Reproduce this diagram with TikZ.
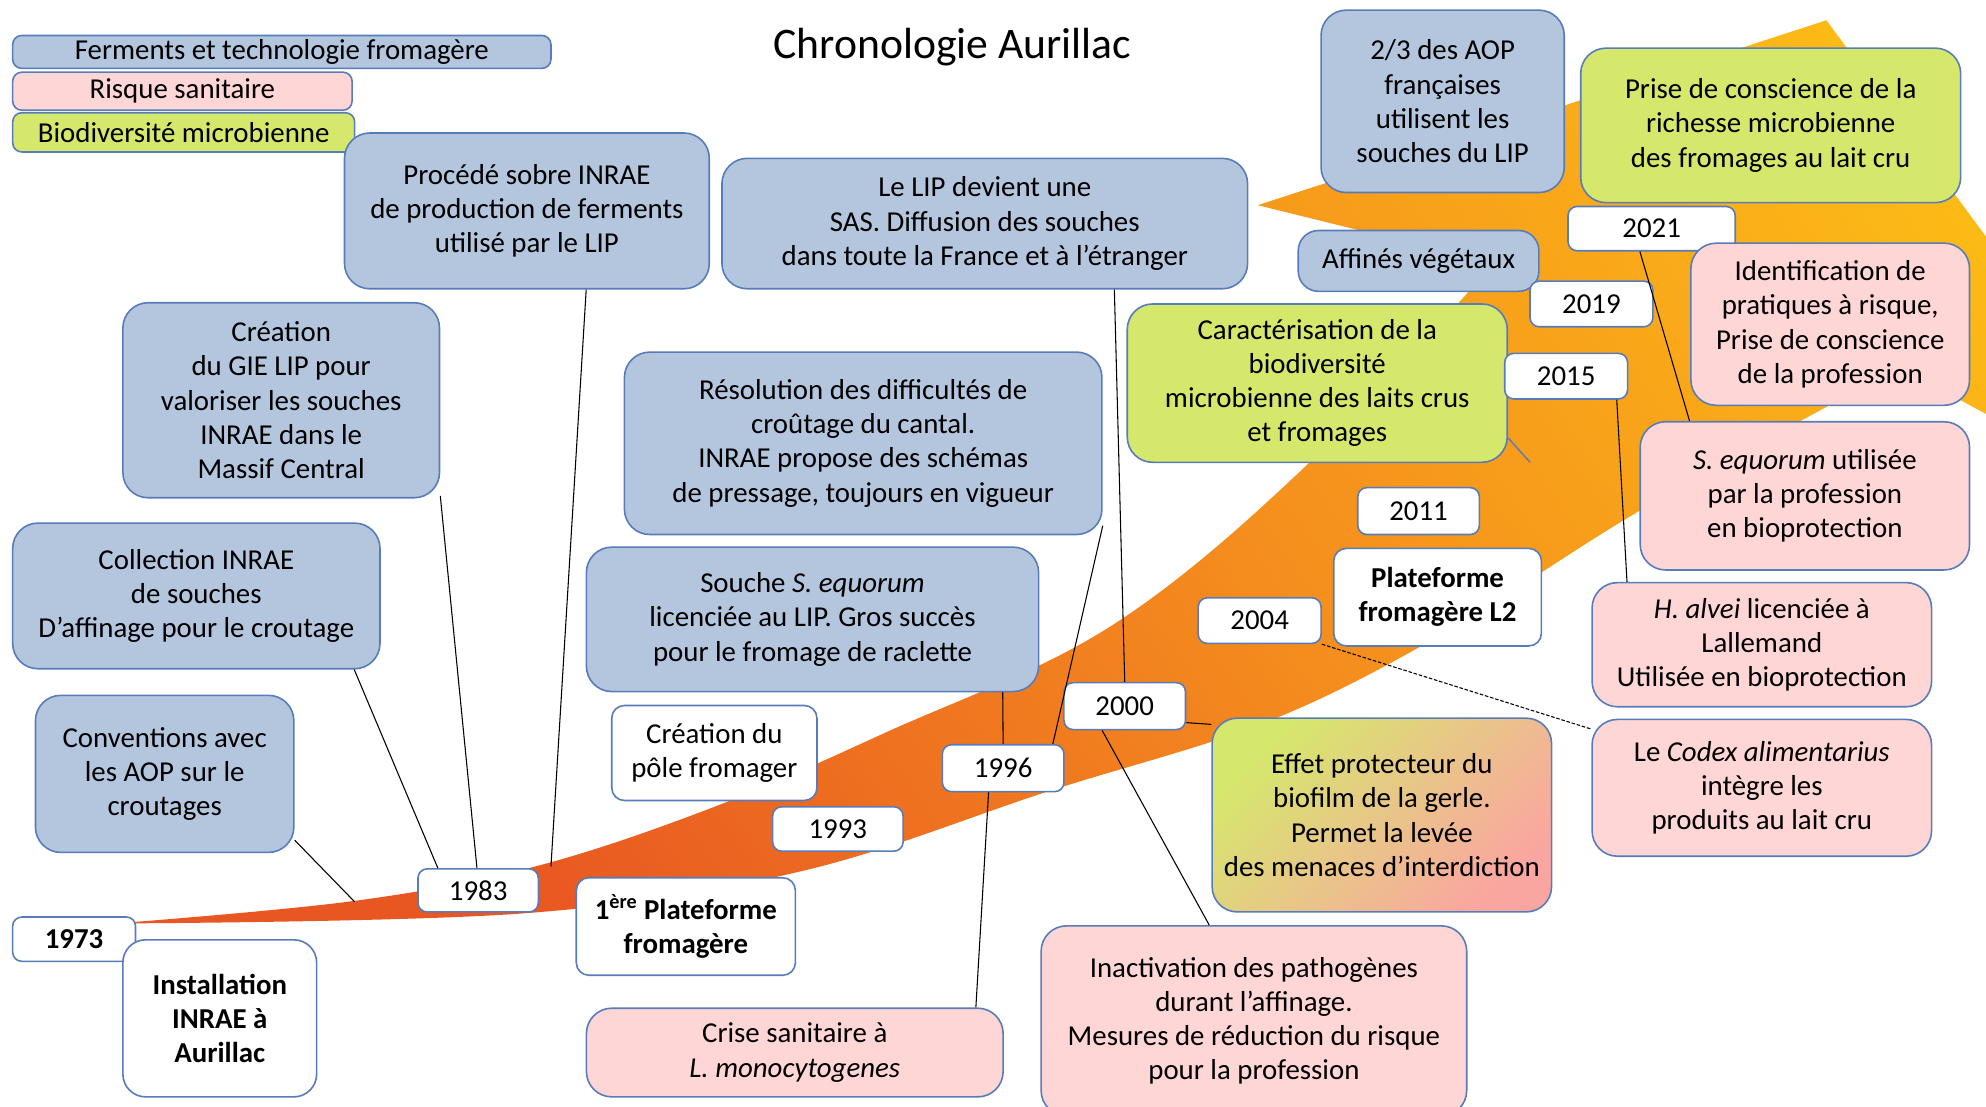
\documentclass[tikz,border=0pt]{standalone}
\usepackage{fontspec}
\setmainfont{Carlito}

\definecolor{bord}{RGB}{88,124,186}
\definecolor{fermbleu}{RGB}{180,198,222}
\definecolor{risquerose}{RGB}{255,214,214}
\definecolor{biovert}{RGB}{213,232,108}
\definecolor{bandebas}{RGB}{232,86,34}
\definecolor{bandemil}{RGB}{244,140,30}
\definecolor{bandehaut}{RGB}{252,186,22}

\begin{document}
\begin{tikzpicture}[x=0.025cm,y=-0.025cm]
    \tikzstyle{every node}=[font=\fontsize{16.2}{19.2}\selectfont, align=center, inner sep=0pt]
    \tikzstyle{etape}=[draw=bord, line width=0.9pt, rounded corners=0.5cm]
    \tikzstyle{ferment}=[etape, fill=fermbleu]
    \tikzstyle{risque}=[etape, fill=risquerose]
    \tikzstyle{biodiv}=[etape, fill=biovert]
    \tikzstyle{annee}=[etape, fill=white, rounded corners=0.18cm]
    \tikzstyle{gras}=[font=\fontsize{16.2}{19.2}\selectfont\bfseries]
    \tikzstyle{lien}=[black, line width=0.6pt]
    \tikzset{taille/.style 2 args={minimum width=#1*0.025cm, minimum height=#2*0.025cm}}

    \useasboundingbox (0,0) rectangle (1568,874);
    \clip (0,0) rectangle (1568,874);

    \shade[bottom color=bandebas, top color=bandehaut, middle color=bandemil, shading angle=-55]
        plot[smooth, tension=0.6] coordinates {(105,728) (282,711) (423,684) (564,637) (700,578) (876,495) (1033,366) (1179,208)}
        -- (993,162) -- (1442,16) -- (1740,420) -- (1500,290)
        -- plot[smooth, tension=0.6] coordinates {(1500,290) (1300,400) (1140,500) (1000,570) (830,624) (632,688) (415,721) (105,729)}
        -- cycle;

    \node (titre) at (752,37) {\fontsize{24.5}{28}\selectfont Chronologie Aurillac};

    \node[ferment, rounded corners=0.18cm, taille={425}{26}] (legferm) at (222.5,41) {Ferments et technologie fromagère};
    \node[risque, rounded corners=0.18cm, taille={268}{30}] (legrisq) at (144,72) {Risque sanitaire};
    \node[biodiv, rounded corners=0.18cm, taille={270}{31}] (legbio) at (145,104.5) {Biodiversité microbienne};

    \node[ferment, taille={288}{123}] (procede) at (416,166.5) {Procédé sobre INRAE\\de production de ferments\\utilisé par le LIP};
    \node[ferment, taille={415}{103}] (lipsas) at (777.5,176.5) {Le LIP devient une\\SAS. Diffusion des souches\\dans toute la France et à l’étranger};
    \node[ferment, taille={192}{144}] (aop) at (1139,80) {2/3 des AOP\\françaises\\utilisent les\\souches du LIP};
    \node[biodiv, taille={300}{122}] (prise) at (1398,99) {Prise de conscience de la\\richesse microbienne\\des fromages au lait cru};
    \node[annee, taille={132}{35}] (a2021) at (1304,180.5) {2021};
    \node[risque, taille={220}{128}] (ident) at (1445,256) {Identification de\\pratiques à risque,\\Prise de conscience\\de la profession};
    \node[ferment, rounded corners=0.4cm, taille={190}{48}] (affines) at (1120,206) {Affinés végétaux};
    \node[annee, taille={97}{36}] (a2019) at (1256.5,240) {2019};
    \node[biodiv, taille={300}{125}] (caract) at (1040,302.5) {Caractérisation de la\\biodiversité\\microbienne des laits crus\\et fromages};
    \node[annee, taille={97}{36}] (a2015) at (1236.5,297) {2015};
    \node[risque, taille={260}{117}] (sequ) at (1425,391.5) {\textit{S. equorum} utilisée\\par la profession\\en bioprotection};
    \node[annee, taille={96}{37}] (a2011) at (1120,403.5) {2011};
    \node[annee, gras, rounded corners=0.25cm, taille={164}{77}] (plat2) at (1135,471.5) {Plateforme\\fromagère L2};
    \node[annee, taille={97}{36}] (a2004) at (994.5,490) {2004};
    \node[risque, taille={268}{98}] (halvei) at (1391,509) {\textit{H. alvei} licenciée à\\Lallemand\\Utilisée en bioprotection};
    \node[risque, taille={268}{108}] (codex) at (1391,622) {Le \textit{Codex alimentarius}\\intègre les\\produits au lait cru};
    \node[annee, taille={96}{37}] (a2000) at (888,557.5) {2000};
    \node[etape, taille={268}{153}, top color=biovert, bottom color={rgb,255:red,250;green,166;blue,160}, middle color={rgb,255:red,232;green,198;blue,136}, shading angle=45] (effet) at (1091,643.5) {Effet protecteur du\\biofilm de la gerle.\\Permet la levée\\des menaces d’interdiction};
    \node[risque, taille={336}{150}] (inact) at (990,806) {Inactivation des pathogènes\\durant l’affinage.\\Mesures de réduction du risque\\pour la profession};

    \node[ferment, taille={377}{144}] (resol) at (681.5,350) {Résolution des difficultés de\\croûtage du cantal.\\INRAE propose des schémas\\de pressage, toujours en vigueur};
    \node[ferment, taille={357}{114}] (souche) at (641.5,489) {Souche \textit{S. equorum}\\licenciée au LIP. Gros succès\\pour le fromage de raclette};
    \node[annee, rounded corners=0.25cm, taille={162}{75}] (pole) at (564,594.5) {Création du\\pôle fromager};
    \node[annee, taille={103}{35}] (a1993) at (661.5,654.5) {1993};
    \node[annee, taille={96}{37}] (a1996) at (792,606.5) {1996};
    \node[risque, taille={329}{70}] (crise) at (627.5,831) {Crise sanitaire à\\\textit{L. monocytogenes}};
    \node[annee, gras, rounded corners=0.25cm, taille={173}{77}] (plat1) at (541.5,731.5) {1\textsuperscript{ère} Plateforme\\fromagère};
    \node[annee, taille={95}{34}] (a1983) at (377.5,703) {1983};
    \node[annee, gras, taille={97}{35}] (a1973) at (58.5,741.5) {1973};
    \node[annee, gras, rounded corners=0.45cm, taille={153}{124}] (install) at (173.5,804) {Installation\\INRAE à\\Aurillac};
    \node[ferment, taille={204}{124}] (conv) at (130,611) {Conventions avec\\les AOP sur le\\croutages};
    \node[ferment, taille={290}{115}] (collec) at (155,470.5) {Collection INRAE\\de souches\\D’affinage pour le croutage};
    \node[ferment, taille={250}{154}] (gie) at (222,316) {Création\\du GIE LIP pour\\valoriser les souches\\INRAE dans le\\Massif Central};

    \coordinate (finconv) at (280,712);
    \coordinate (finproc) at (435,684);
    \coordinate (fincar) at (1208,365);

    \draw[lien] (conv.-27) -- (finconv);
    \draw[lien] (collec.-25) -- (a1983.151);
    \draw[lien] (gie.-31) -- (a1983.93);
    \draw[lien] (procede.-53) -- (finproc);
    \draw[lien] (resol.-19) -- (a1996.26);
    \draw[lien] (souche.-21) -- (a1996.north);
    \draw[lien] (lipsas.-27) -- (a2000.north);
    \draw[lien] (a2000.-15) -- (effet.152);
    \draw[lien] (a2000.-133) -- (inact.115);
    \draw[lien] (a1996.-121) -- (crise.14);
    \draw[lien, dash pattern=on 2pt off 1pt] (a2004.south east) -- (codex.161);
    \draw[lien] (a2015.-25) -- (halvei.155);
    \draw[lien] (a2021.-117) -- (sequ.147);
    \draw[draw=bord, line width=0.8pt] (caract.-16) -- (fincar);
\end{tikzpicture}
\end{document}
